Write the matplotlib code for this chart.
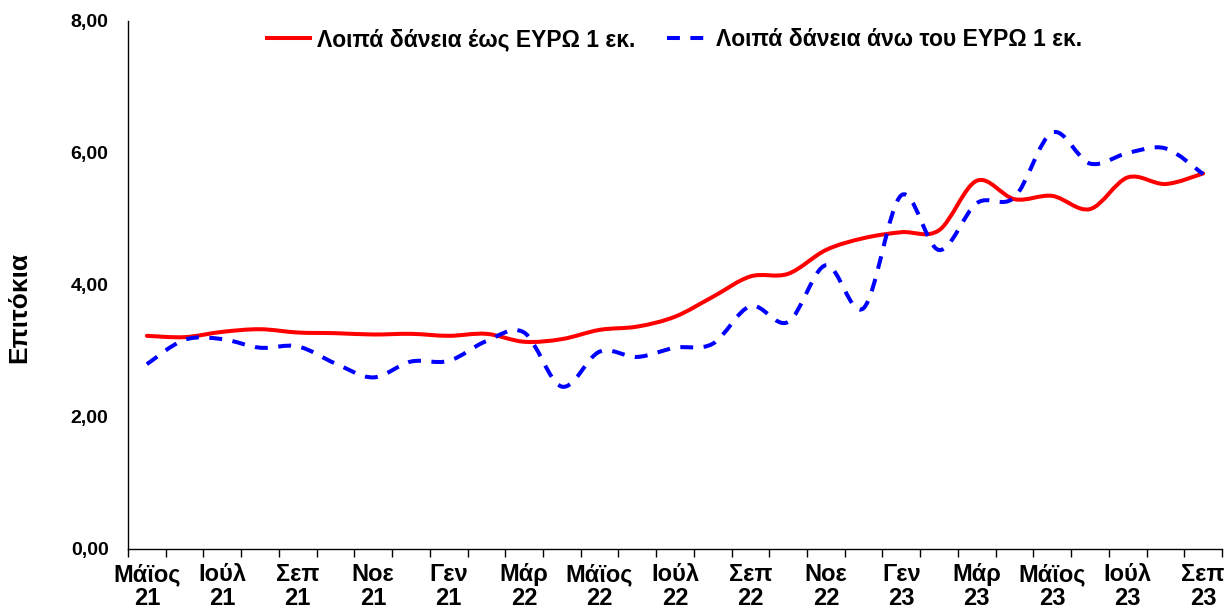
import matplotlib
matplotlib.use("Agg")
import matplotlib.pyplot as plt
from matplotlib.path import Path
from matplotlib.patches import PathPatch
from matplotlib.lines import Line2D

plt.rcParams['font.family'] = ['Liberation Sans', 'DejaVu Sans']
plt.rcParams['font.weight'] = 'bold'

months = ['Μάϊος\n21', '', 'Ιούλ\n21', '', 'Σεπ\n21', '', 'Νοε\n21', '', 'Γεν\n21', '',
          'Μάρ\n22', '', 'Μάϊος\n22', '', 'Ιούλ\n22', '', 'Σεπ\n22', '', 'Νοε\n22', '',
          'Γεν\n23', '', 'Μάρ\n23', '', 'Μάϊος\n23', '', 'Ιούλ\n23', '', 'Σεπ\n23']

up_to_1m = [3.23, 3.21, 3.29, 3.33, 3.28, 3.27, 3.25, 3.26, 3.23, 3.26,
            3.14, 3.18, 3.32, 3.37, 3.52, 3.82, 4.13, 4.17, 4.53, 4.71,
            4.80, 4.83, 5.58, 5.30, 5.35, 5.15, 5.63, 5.53, 5.69]
over_1m = [2.80, 3.17, 3.18, 3.05, 3.07, 2.81, 2.60, 2.84, 2.85, 3.15,
           3.28, 2.46, 2.99, 2.91, 3.05, 3.11, 3.68, 3.44, 4.30, 3.65,
           5.36, 4.53, 5.24, 5.33, 6.31, 5.84, 6.00, 6.07, 5.68]

label_red = 'Λοιπά δάνεια έως ΕΥΡΩ 1 εκ.'
label_blue = 'Λοιπά δάνεια άνω του ΕΥΡΩ 1 εκ.'


def smooth_path(xs, ys):
    # excel-like smoothed line, bezier segments through each point
    n = len(xs)
    verts = [(xs[0], ys[0])]
    codes = [Path.MOVETO]
    for i in range(n - 1):
        a = i - 1 if i > 0 else i
        d = i + 2 if i + 2 < n else i + 1
        c1 = (xs[i] + (xs[i + 1] - xs[a]) / 6, ys[i] + (ys[i + 1] - ys[a]) / 6)
        c2 = (xs[i + 1] - (xs[d] - xs[i]) / 6, ys[i + 1] - (ys[d] - ys[i]) / 6)
        verts += [c1, c2, (xs[i + 1], ys[i + 1])]
        codes += [Path.CURVE4] * 3
    return Path(verts, codes)


x = list(range(len(months)))

fig = plt.figure(figsize=(12.26, 6.15), dpi=100)
ax = fig.add_axes([128 / 1226, 1 - 549 / 615, (1222 - 128) / 1226, (549 - 21) / 615])

dash = (0, (3.2, 2.6))
ax.add_patch(PathPatch(smooth_path(x, up_to_1m), fill=False, edgecolor='#ff0000',
                       lw=2.9, capstyle='round', joinstyle='round'))
ax.add_patch(PathPatch(smooth_path(x, over_1m), fill=False, edgecolor='#0000ff',
                       lw=2.9, linestyle=dash, capstyle='butt', joinstyle='round'))

ax.set_xlim(-0.5, len(months) - 0.5)
ax.set_ylim(0, 8)
ax.set_yticks([0, 2, 4, 6, 8])
ax.set_yticklabels(['0,00', '2,00', '4,00', '6,00', '8,00'], fontsize=14, fontweight='bold')
ax.tick_params(axis='y', length=0, pad=14)

ax.set_xticks(x)
ax.set_xticklabels(months, fontsize=17, fontweight='bold', linespacing=1.05)
ax.set_xticks([i - 0.5 for i in range(len(months) + 1)], minor=True)
ax.tick_params(axis='x', which='major', length=0, pad=10)
ax.tick_params(axis='x', which='minor', length=6, width=1.0, color='black')

for s in ['top', 'right']:
    ax.spines[s].set_visible(False)
for s in ['left', 'bottom']:
    ax.spines[s].set_linewidth(1.0)
    ax.spines[s].set_color('black')

fig.text(19 / 1226, 1 - 307 / 615, 'Επιτόκια', rotation=90, fontsize=19,
         fontweight='bold', ha='center', va='center')

handles = [Line2D([], [], color='#ff0000', lw=2.9),
           Line2D([], [], color='#0000ff', lw=2.9, linestyle=dash, dash_capstyle='butt')]
ax.legend(handles, [label_red, label_blue], loc='upper center', bbox_to_anchor=(0.5, 1.025),
          ncol=2, frameon=False, prop={'size': 16.5, 'weight': 'bold'},
          handlelength=1.85, handletextpad=0.3, columnspacing=1.4)

fig.savefig('out.png', dpi=100)
